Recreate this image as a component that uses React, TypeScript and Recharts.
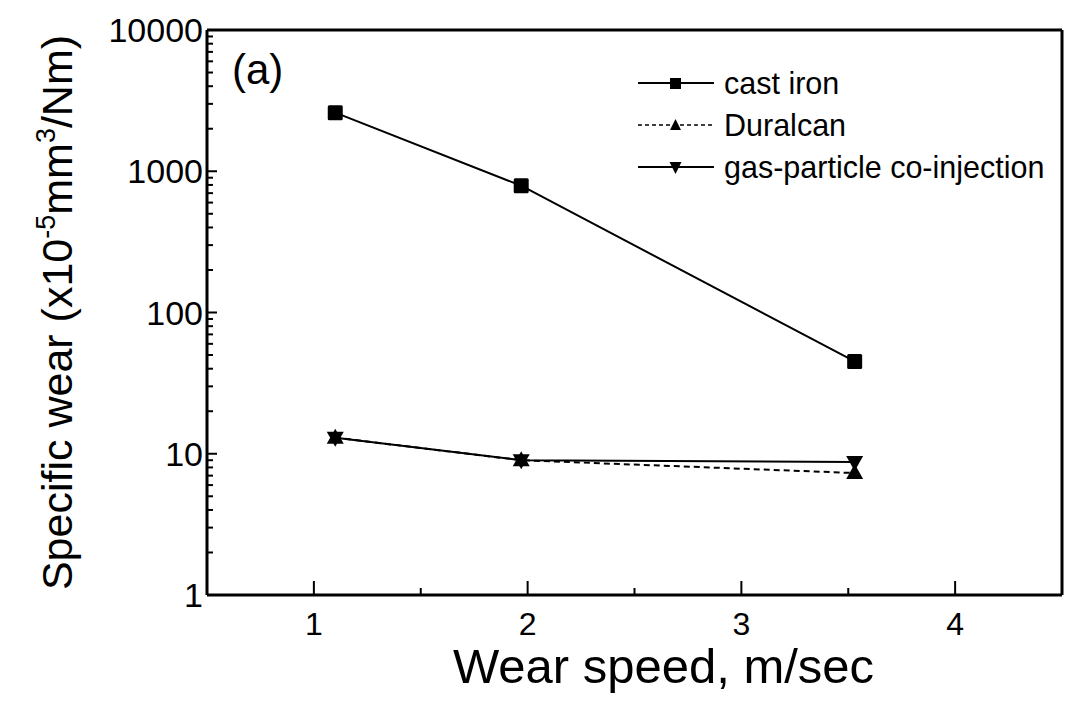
import React from 'react';
import { LineChart, Line, XAxis, YAxis, Legend, Label, Customized } from 'recharts';

const speeds = [1.1, 1.97, 3.53];
const castIron = [2600, 790, 45];
const duralcan = [13, 9, 7.3];
const gasParticle = [13, 9, 8.75];
const seriesNames = ['cast iron', 'Duralcan', 'gas-particle co-injection'];

const xTicks = [1, 1.5, 2, 2.5, 3, 3.5, 4];
const xTickLabels = ['1', '', '2', '', '3', '', '4'];
const yMajorTicks = [1, 10, 100, 1000, 10000];
const yTickLabels = ['1', '10', '100', '1000', '10000'];
const yMinorMultipliers = [2, 3, 4, 5, 6, 7, 8, 9];

const FONT = '"Liberation Sans", Arial, Helvetica, sans-serif';

const yTicks: number[] = [];
yMajorTicks.forEach((m, i) => {
  yTicks.push(m);
  if (i < yMajorTicks.length - 1) yMinorMultipliers.forEach((k) => yTicks.push(m * k));
});

const castData = speeds.map((x, i) => ({ x, y: castIron[i] }));
const duralData = speeds.map((x, i) => ({ x, y: duralcan[i] }));
const gasData = speeds.map((x, i) => ({ x, y: gasParticle[i] }));

const X_TM = 17;
const Y_TM = 4;

const XTick = (props: any) => {
  const { x, y, payload } = props;
  const v = payload.value;
  const idx = xTicks.indexOf(v);
  const label = idx >= 0 ? xTickLabels[idx] : '';
  const major = label !== '';
  const axisY = y - X_TM;
  return (
    <g>
      <line x1={x} x2={x} y1={axisY} y2={axisY - (major ? 14 : 7)} stroke="#000" strokeWidth={2} />
      {major && (
        <text x={x} y={y} dy="0.71em" textAnchor="middle" fontSize={32} fontFamily={FONT} fill="#000">
          {label}
        </text>
      )}
    </g>
  );
};

const YTick = (props: any) => {
  const { x, y, payload } = props;
  const v = payload.value;
  const idx = yMajorTicks.indexOf(v);
  const major = idx >= 0;
  const axisX = x + Y_TM;
  return (
    <g>
      <line x1={axisX} x2={axisX + (major ? 10 : 6)} y1={y} y2={y} stroke="#000" strokeWidth={2} />
      {major && (
        <text x={x} y={y} dy="0.36em" textAnchor="end" fontSize={34} fontFamily={FONT} fill="#000">
          {yTickLabels[idx]}
        </text>
      )}
    </g>
  );
};

const squareDot = (p: any) => (
  <rect key={`s${p.index}`} x={p.cx - 7.5} y={p.cy - 7.5} width={15} height={15} fill="#000" rx={1.5} />
);
const upDot = (p: any) => (
  <polygon
    key={`u${p.index}`}
    points={`${p.cx},${p.cy - 9} ${p.cx + 8.5},${p.cy + 6} ${p.cx - 8.5},${p.cy + 6}`}
    fill="#000"
  />
);
const downDot = (p: any) => (
  <polygon
    key={`d${p.index}`}
    points={`${p.cx},${p.cy + 9} ${p.cx + 8.5},${p.cy - 6} ${p.cx - 8.5},${p.cy - 6}`}
    fill="#000"
  />
);

const LegendMarker = ({ kind }: { kind: number }) => (
  <svg width={76} height={24} style={{ display: 'block', flex: 'none' }}>
    <line x1={0} x2={76} y1={12} y2={12} stroke="#000" strokeWidth={kind === 1 ? 1.5 : 1.8} strokeDasharray={kind === 1 ? '4 3' : undefined} />
    {kind === 0 && <rect x={32} y={7} width={11} height={11} fill="#000" />}
    {kind === 1 && <polygon points="37.5,6 43,17 32,17" fill="#000" />}
    {kind === 2 && <polygon points="37.5,19 43.5,7 31.5,7" fill="#000" />}
  </svg>
);

const renderLegend = () => (
  <div style={{ fontFamily: FONT, fontSize: 30.5, color: '#000' }}>
    {seriesNames.map((n, i) => (
      <div key={n} style={{ display: 'flex', alignItems: 'center', height: 42, whiteSpace: 'nowrap' }}>
        <LegendMarker kind={i} />
        <span style={{ marginLeft: 10, lineHeight: '42px' }}>{n}</span>
      </div>
    ))}
  </div>
);

const XTitle = (props: any) => {
  const vb = props.viewBox;
  return (
    <text x={vb.x + vb.width / 2 + 29} y={vb.y + 88} textAnchor="middle" fontSize={49} fontFamily={FONT} fill="#000">
      Wear speed, m/sec
    </text>
  );
};

const YTitle = (props: any) => {
  const vb = props.viewBox;
  const cx = vb.x + 72;
  const cy = vb.y + vb.height / 2;
  return (
    <text
      x={cx}
      y={cy}
      transform={`rotate(-90, ${cx}, ${cy})`}
      textAnchor="middle"
      fontSize={43}
      fontFamily={FONT}
      fill="#000"
    >
      <tspan>Specific wear (x10</tspan>
      <tspan fontSize={27} dy={-17}>-5</tspan>
      <tspan dy={17}>mm</tspan>
      <tspan fontSize={27} dy={-17}>3</tspan>
      <tspan dy={17}>/Nm)</tspan>
    </text>
  );
};

export default function App() {
  return (
    <div style={{ position: 'absolute', left: 0, top: 0, width: 1080, height: 709, background: '#fff' }}>
      <LineChart width={1080} height={709} margin={{ top: 29, right: 17, bottom: 0, left: 0 }}>
        <XAxis
          xAxisId={0}
          dataKey="x"
          type="number"
          domain={[0.5, 4.5]}
          ticks={xTicks}
          interval={0}
          allowDataOverflow
          height={114}
          tickSize={0}
          tickMargin={X_TM}
          tickLine={false}
          tick={<XTick />}
          axisLine={{ stroke: '#000', strokeWidth: 3 }}
        >
          <Label content={<XTitle />} />
        </XAxis>
        <XAxis
          xAxisId="top"
          orientation="top"
          type="number"
          domain={[0.5, 4.5]}
          height={1}
          tick={false}
          tickLine={false}
          axisLine={{ stroke: '#000', strokeWidth: 3 }}
        />
        <YAxis
          yAxisId={0}
          type="number"
          scale="log"
          domain={[1, 10000]}
          ticks={yTicks}
          interval={0}
          allowDataOverflow
          width={207}
          tickSize={0}
          tickMargin={Y_TM}
          tickLine={false}
          tick={<YTick />}
          axisLine={{ stroke: '#000', strokeWidth: 3 }}
        >
          <Label content={<YTitle />} />
        </YAxis>
        <YAxis
          yAxisId="right"
          orientation="right"
          type="number"
          domain={[0, 1]}
          width={1}
          tick={false}
          tickLine={false}
          axisLine={{ stroke: '#000', strokeWidth: 3 }}
        />
        <Line
          data={castData}
          dataKey="y"
          name={seriesNames[0]}
          type="linear"
          stroke="#000"
          strokeWidth={2}
          dot={squareDot}
          activeDot={false}
          isAnimationActive={false}
        />
        <Line
          data={duralData}
          dataKey="y"
          name={seriesNames[1]}
          type="linear"
          stroke="#000"
          strokeWidth={2}
          strokeDasharray="6 4"
          dot={upDot}
          activeDot={false}
          isAnimationActive={false}
        />
        <Line
          data={gasData}
          dataKey="y"
          name={seriesNames[2]}
          type="linear"
          stroke="#000"
          strokeWidth={2}
          dot={downDot}
          activeDot={false}
          isAnimationActive={false}
        />
        <Legend
          layout="vertical"
          align="center"
          verticalAlign="middle"
          content={renderLegend}
          wrapperStyle={{ position: 'absolute', left: 638, top: 62, width: 430 }}
        />
        <Customized
          component={() => (
            <text x={232} y={84} fontSize={42} fontFamily={FONT} fill="#000">
              (a)
            </text>
          )}
        />
      </LineChart>
    </div>
  );
}
